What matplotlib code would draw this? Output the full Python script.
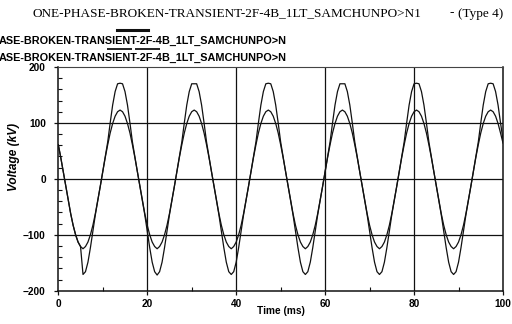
import numpy as np
import matplotlib
matplotlib.use("Agg")
import matplotlib.pyplot as plt
from matplotlib.lines import Line2D
from matplotlib.ticker import MultipleLocator
from matplotlib.font_manager import FontProperties

title_text = "ONE-PHASE-BROKEN-TRANSIENT-2F-4B_1LT_SAMCHUNPO>N1"
type_text = "(Type 4)"
# legend labels as visible in the (left-clipped) original
series_names = ["ASE-BROKEN-TRANSIENT-2F-4B_1LT_SAMCHUNPO>N",
                "ASE-BROKEN-TRANSIENT-2F-4B_1LT_SAMCHUNPO>N"]
x_label = "Time (ms)"
y_label = "Voltage (kV)"
x_ticks = [0, 20, 40, 60, 80, 100]
y_ticks = [-200, -100, 0, 100, 200]

# time samples (ms), 181 points over 0..100 ms
time_ms = np.linspace(0, 100, 181)

# larger (clipped-top) voltage trace, kV
v_big = [
    61, 38, 13, -13, -38, -62, -83, -100, -113, -121,
    -171, -166, -149, -123, -93, -64, -39, -13, 13, 39,
    66, 100, 132, 156, 170, 171, 170, 156, 132, 100,
    66, 39, 13, -13, -39, -64, -93, -123, -149, -166,
    -172, -166, -149, -123, -93, -64, -39, -13, 13, 39,
    66, 100, 132, 156, 170, 170, 170, 156, 132, 100,
    66, 39, 13, -13, -39, -64, -93, -123, -149, -166,
    -171, -166, -149, -123, -93, -64, -39, -13, 13, 39,
    66, 100, 132, 156, 170, 171, 170, 156, 132, 100,
    66, 39, 13, -13, -39, -64, -93, -123, -149, -166,
    -171, -166, -149, -123, -93, -64, -39, -13, 13, 39,
    66, 100, 132, 156, 170, 170, 170, 156, 132, 100,
    66, 39, 13, -13, -39, -64, -93, -123, -149, -166,
    -171, -166, -149, -123, -93, -64, -39, -13, 13, 39,
    66, 100, 132, 156, 170, 171, 170, 156, 132, 100,
    66, 39, 13, -13, -39, -64, -93, -123, -149, -166,
    -171, -166, -149, -123, -93, -64, -39, -13, 13, 39,
    66, 100, 132, 156, 170, 171, 170, 156, 132, 100,
    70,
]

# smaller (sinusoidal) voltage trace, kV
v_small = [
    61, 38, 13, -13, -38, -62, -83, -100, -113, -121,
    -125, -121, -113, -100, -83, -62, -38, -13, 13, 38,
    61, 82, 99, 112, 120, 123, 120, 112, 99, 82,
    61, 38, 13, -13, -38, -62, -83, -100, -113, -121,
    -125, -121, -113, -100, -83, -62, -38, -13, 13, 38,
    61, 82, 99, 112, 120, 123, 120, 112, 99, 82,
    61, 38, 13, -13, -38, -62, -83, -100, -113, -121,
    -125, -121, -113, -100, -83, -62, -38, -13, 13, 38,
    61, 82, 99, 112, 120, 123, 120, 112, 99, 82,
    61, 38, 13, -13, -38, -62, -83, -100, -113, -121,
    -125, -121, -113, -100, -83, -62, -38, -13, 13, 38,
    61, 82, 99, 112, 120, 123, 120, 112, 99, 82,
    61, 38, 13, -13, -38, -62, -83, -100, -113, -121,
    -125, -121, -113, -100, -83, -62, -38, -13, 13, 38,
    61, 82, 99, 112, 120, 123, 120, 112, 99, 82,
    61, 38, 13, -13, -38, -62, -83, -100, -113, -121,
    -125, -121, -113, -100, -83, -62, -38, -13, 13, 38,
    61, 82, 99, 112, 120, 123, 120, 112, 99, 82,
    64,
]

W, H = 512, 324
fig = plt.figure(figsize=(W / 100, H / 100), dpi=100)
fig.patch.set_facecolor("white")

ax_l, ax_r, ax_t, ax_b = 58.3, 503, 67, 290.7
ax = fig.add_axes([ax_l / W, 1 - ax_b / H, (ax_r - ax_l) / W, (ax_b - ax_t) / H])

ink = "#111111"
ax.plot(time_ms, v_big, color=ink, lw=0.9)
ax.plot(time_ms, v_small, color=ink, lw=0.9)

ax.set_xlim(0, 100)
ax.set_ylim(-200, 200)
ax.set_xticks(x_ticks)
ax.set_yticks(y_ticks)
ax.xaxis.set_minor_locator(MultipleLocator(10))
ax.yaxis.set_minor_locator(MultipleLocator(20))

for v in [20, 40, 60, 80]:
    ax.axvline(v, color=ink, lw=0.9)
for v in [-100, 0, 100]:
    ax.axhline(v, color=ink, lw=0.9)

for s in ["left", "bottom", "right"]:
    ax.spines[s].set_color(ink)
    ax.spines[s].set_linewidth(1.1)
ax.spines["top"].set_color("#444444")
ax.spines["top"].set_linewidth(0.8)
ax.spines["top"].set_linestyle((0, (1, 1)))

tick_font = dict(family="Liberation Sans", weight="bold", size=7.3)
ax.tick_params(which="major", direction="out", length=3, width=0.9, color=ink, pad=6)
ax.tick_params(which="minor", direction="in", length=3, width=0.8, color=ink)
ax.tick_params(axis="x", which="major", pad=3)
ax.tick_params(axis="y", which="minor", right=False)
ax.tick_params(axis="x", which="minor", top=False)
for lab in ax.get_xticklabels() + ax.get_yticklabels():
    lab.set_fontproperties(FontProperties(**tick_font))

fig.text(280.6 / W, 1 - 311 / H, x_label, ha="center", va="center", **tick_font)
fig.text(14 / W, 1 - 157 / H, y_label, ha="center", va="center", rotation=90,
         family="Liberation Sans", weight="bold", style="italic", size=8.6)

serif = dict(family="Liberation Serif", size=9.5)
fig.text(421 / W, 1 - 13.5 / H, title_text, ha="right", va="center", **serif)
fig.text(452 / W, 1 - 13.5 / H, "-", ha="center", va="center", **serif)
fig.text(503 / W, 1 - 13.5 / H, type_text, ha="right", va="center", **serif)

leg_font = dict(family="Liberation Sans", weight="bold", size=7.8)
fig.text(287 / W, 1 - 41 / H, series_names[0], ha="right", va="center", **leg_font)
fig.text(287 / W, 1 - 58 / H, series_names[1], ha="right", va="center", **leg_font)
fig.add_artist(Line2D([117 / W, 148 / W], [1 - 30 / H, 1 - 30 / H],
                      transform=fig.transFigure, color=ink, lw=2.2))
for x0, x1 in [(107, 132), (135, 160)]:
    fig.add_artist(Line2D([x0 / W, x1 / W], [1 - 48.5 / H, 1 - 48.5 / H],
                          transform=fig.transFigure, color=ink, lw=1.3,
                          solid_capstyle="butt"))

fig.savefig("out.png", dpi=100)
